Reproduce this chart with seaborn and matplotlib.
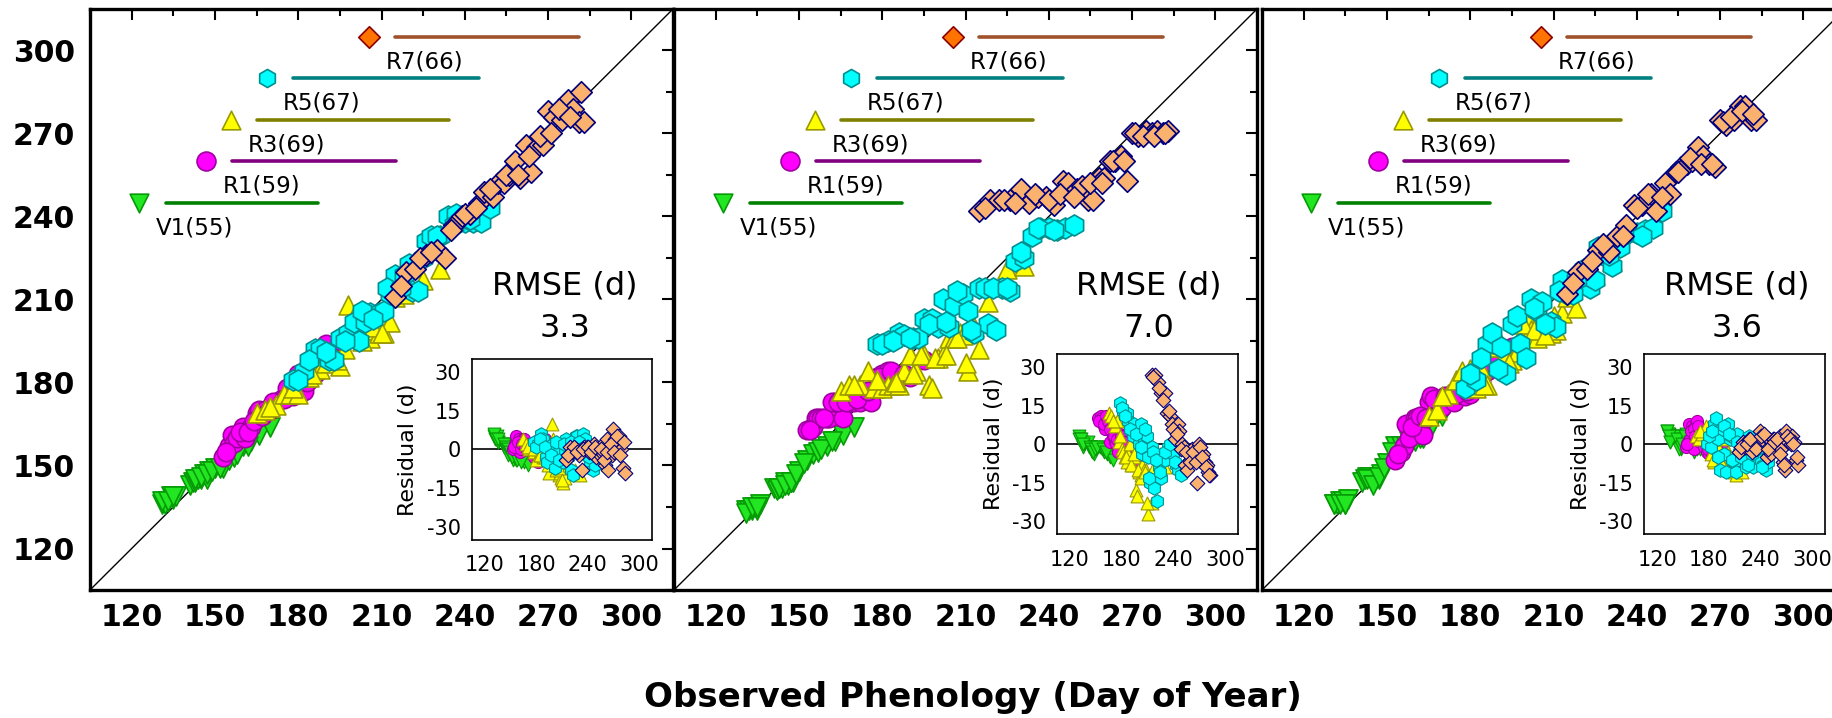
import matplotlib
matplotlib.use("Agg")
import matplotlib.pyplot as plt
from matplotlib.ticker import MultipleLocator
import pandas as pd
import seaborn as sns

# ---------------------------------------------------------------- data
stages = ["V1", "R1", "R3", "R5", "R7"]
counts = [55, 59, 69, 67, 66]
rmse = [3.3, 7.0, 3.6]

# observed day of year for each stage
obs_v1 = [131, 132, 133, 134, 135, 136, 141, 142, 143, 144, 145, 146, 147, 148,
          150, 153, 155, 157, 160, 163, 166, 170,
          131, 133, 135, 143, 145, 147, 149, 152, 158, 162]
obs_r1 = [153, 155, 156, 157, 158, 160, 161, 163, 165, 166, 168, 170, 172, 174,
          176, 178, 180, 182, 184, 186, 190, 195,
          154, 159, 162, 164, 167, 171, 175, 179, 183, 188]
obs_r3 = [165, 168, 172, 175, 177, 180, 182, 184, 186, 188, 190, 192, 195, 197,
          198, 200, 202, 204, 206, 208, 209, 211, 213, 215, 225, 231,
          170, 178, 185, 191, 194, 199, 203, 207, 210, 218]
obs_r5 = [178, 182, 186, 188, 191, 193, 195, 198, 200, 202, 204, 206, 209, 211,
          213, 215, 218, 221, 223, 226, 228, 231, 234, 237, 240, 243, 246, 249,
          180, 184, 190, 197, 203, 207, 212, 217, 220, 225, 230, 236, 242]
obs_r7 = [215, 219, 222, 226, 230, 233, 236, 239, 242, 245, 247, 250, 252, 254,
          256, 258, 260, 262, 264, 266, 268, 270, 272, 275, 277, 279, 281, 283,
          217, 224, 228, 235, 240, 244, 249, 255, 259, 263, 267, 271, 274, 278, 282]

# residuals (simulated - observed, days), model A
res_a_v1 = [5, 4, 4, 5, 3, 3, 2, 2, 1, 1, 0, 1, -2, 0, -1, -4, -3, -4, -3, -4, -5, -6,
            6, 4, 4, 2, 1, 0, -1, -3, -4, -5]
res_a_r1 = [0, 2, 5, 1, 2, 4, -1, 1, 4, 4, 2, 0, 1, 0, 2, -3, 3, -5, -3, -3, 4, 0,
            1, 3, 0, 2, 1, 2, -1, 0, -3, 2]
res_a_r3 = [4, 2, 0, 1, -1, -4, 0, -2, -1, -3, -3, -2, -9, -5, 10, 4, -6, -7, -10,
            -9, -11, -13, -11, -4, -8, -10,
            1, 0, -2, -1, -6, 2, -8, -7, -12, -6]
res_a_r5 = [3, 2, 6, 4, -3, -5, 1, 0, 2, -7, -2, -1, -4, -5, -1, 4, 1, -8, -10, 5,
            5, 2, 6, 4, -2, -5, -8, -6,
            1, 4, 1, -2, 3, -4, 2, -3, 3, 0, 3, 1, -3]
res_a_r7 = [-4, 1, -1, 0, -2, -8, 1, 1, -1, 0, 2, -3, 0, -2, -1, 2, -6, 4, -8, -1,
            -2, 8, 4, 0, 5, 0, -7, -9,
            -2, 1, -1, 0, 1, -1, 1, 0, -4, -1, 2, -1, 5, -2, 3]

# model B
res_b_v1 = [3, 2, 1, 1, -1, 0, 1, -1, -1, -2, -1, -3, -3, -4, -2, -1, -1, -2, -3, -4, -5, -6,
            2, 2, 0, -1, -2, -3, -2, -1, -2, -3]
res_b_r1 = [10, 9, 11, 10, 9, 7, 6, 10, 8, 1, 5, 3, 1, 0, -3, 4, 3, 2, -1, -4, -8, -7,
            9, 8, 11, 9, 6, 3, 2, 3, 1, -5]
res_b_r3 = [12, 11, 7, 9, 1, -2, -3, -5, -7, -4, 0, -8, -5, -18, -20, -11, -12, -8,
            -10, -10, -12, -27, -13, -23, -4, -9,
            9, 3, -5, -8, -4, -10, -13, -11, -23, -9]
res_b_r5 = [16, 13, 12, 9, 5, 3, 8, 5, 0, 8, -4, 2, 3, -5, -15, -1, -17, -22, -9,
            -13, -4, -6, -1, -1, -4, -8, -10, -12,
            14, 11, 6, 4, -1, 6, -13, -3, -6, -11, -3, 0, -7]
res_b_r7 = [27, 27, 24, 20, 20, 12, 11, 8, 2, 8, 5, 0, -1, -8, -10, -4, -6, -2, -4,
            -4, -15, 0, -3, -4, -7, -8, -11, -12,
            26, 22, 17, 13, 6, 4, -2, -3, -7, -3, -7, -1, -5, -9, -12]

# model C
res_c_v1 = [5, 4, 4, 3, 1, 2, 3, 3, 3, 2, 0, -1, -2, -1, 1, 4, 2, 0, -1, -3, -2, -2,
            5, 3, 1, 2, -2, -1, 0, 3, 1, -2]
res_c_r1 = [-1, 0, 1, 8, 2, 7, 6, -2, 8, 9, 2, 1, 3, -1, 0, -3, -4, -3, -3, -2, 1, -2,
            0, 5, 6, 3, 7, 4, 1, -2, -2, -1]
res_c_r3 = [3, 2, 4, 6, 7, 5, -4, 1, -7, 5, 3, -2, -7, -6, 5, 4, -3, -8, -5, -9, -11,
            -12, -8, -4, -6, -7,
            5, 2, -6, 3, -7, 2, -4, -10, -6, -11]
res_c_r5 = [0, -1, 8, 10, 2, -10, 6, -4, -11, 8, 2, 3, -7, -11, 4, -3, -1, 0, -9, 3,
            -2, -9, -5, -3, -6, -8, -10, -7,
            3, 5, -5, 7, 4, -6, 1, -5, -2, -8, -4, -2, -9]
res_c_r7 = [-3, 1, -1, 2, -3, 0, 1, 5, 2, 3, -5, 2, -4, 2, 2, 1, 0, 3, -2, -7, -10, 5,
            1, 0, 3, 1, -6, -8,
            -1, 0, 2, -2, 3, 4, -2, 1, 2, -4, -8, 3, 2, 0, -5]

observed = [obs_v1, obs_r1, obs_r3, obs_r5, obs_r7]
residuals = [
    [res_a_v1, res_a_r1, res_a_r3, res_a_r5, res_a_r7],
    [res_b_v1, res_b_r1, res_b_r3, res_b_r5, res_b_r7],
    [res_c_v1, res_c_r1, res_c_r3, res_c_r5, res_c_r7],
]

frames = []
for m, model_res in enumerate(residuals):
    for stage, obs, res in zip(stages, observed, model_res):
        df = pd.DataFrame({"obs": obs, "res": res})
        df["sim"] = df["obs"] + df["res"]
        df["stage"] = stage
        df["model"] = m
        frames.append(df)
data = pd.concat(frames, ignore_index=True)

# ---------------------------------------------------------------- styles
markers = {"V1": "v", "R1": "o", "R3": "^", "R5": "h", "R7": "D"}
faces = {"V1": "#22e622", "R1": "#ff00ff", "R3": "#ffff00", "R5": "#00ffff", "R7": "#fbb26e"}
edges = {"V1": "#079a07", "R1": "#a000a0", "R3": "#9a9a00", "R5": "#008f8f", "R7": "#00007f"}
key_faces = {"V1": "#22e622", "R1": "#ff00ff", "R3": "#ffff00", "R5": "#00ffff", "R7": "#ff7400"}
key_edges = {"V1": "#079a07", "R1": "#a000a0", "R3": "#9a9a00", "R5": "#008f8f", "R7": "#8b0000"}
bar_colors = {"V1": "#008000", "R1": "#800080", "R3": "#808000", "R5": "#008080", "R7": "#a0522d"}
main_size = {"V1": 190, "R1": 175, "R3": 185, "R5": 230, "R7": 120}
key_size = {"V1": 180, "R1": 185, "R3": 180, "R5": 170, "R7": 120}
inset_size = {"V1": 85, "R1": 75, "R3": 85, "R5": 95, "R7": 56}

# key placement (data units)
key_x = [122.8, 146.8, 155.7, 168.6, 205.5]
key_y = [245, 260, 275, 290, 305]
bar_gap = 9.5

LIM = (105, 315)

sns.set_style("white")
plt.rcParams["font.family"] = ["DejaVu Sans"]
plt.rcParams["axes.unicode_minus"] = False
plt.rcParams["text.color"] = "black"
plt.rcParams["xtick.color"] = "black"
plt.rcParams["ytick.color"] = "black"
plt.rcParams["axes.labelcolor"] = "black"

W, H = 1833, 718
fig = plt.figure(figsize=(W / 100, H / 100), dpi=100)

panel_left = [90, 674, 1262]
inset_bounds = [[0.655, 0.086, 0.309, 0.312],
                [0.657, 0.096, 0.310, 0.310],
                [0.656, 0.096, 0.310, 0.310]]

for p in range(3):
    ax = fig.add_axes([panel_left[p] / W, 128 / H, 583 / W, 581 / H])
    sub = data[data["model"] == p]

    ax.plot(LIM, LIM, color="black", lw=1.0, zorder=1)

    for k, stage in enumerate(stages):
        d = sub[sub["stage"] == stage]
        sns.scatterplot(data=d, x="obs", y="sim", ax=ax, marker=markers[stage],
                        s=main_size[stage], color=faces[stage],
                        edgecolor=edges[stage], linewidth=1.2, zorder=3 + k,
                        legend=False)

    # stage key: marker, bar of length n, and label
    for k, stage in enumerate(stages):
        n = counts[k]
        bx = key_x[k] + bar_gap
        sns.scatterplot(x=[key_x[k]], y=[key_y[k]], ax=ax, marker=markers[stage],
                        s=key_size[stage], color=key_faces[stage],
                        edgecolor=key_edges[stage], linewidth=1.2, zorder=10,
                        legend=False)
        ax.plot([bx, bx + n], [key_y[k], key_y[k]], color=bar_colors[stage],
                lw=2.6, solid_capstyle="round", zorder=9)
        ax.text(bx - 3.5, key_y[k] - 9.0, f"{stage}({n})", fontsize=16.5,
                ha="left", va="center", zorder=11)

    ax.text(276, 214.8, "RMSE (d)", fontsize=23, ha="center", va="center")
    ax.text(276, 199.5, f"{rmse[p]:.1f}", fontsize=23, ha="center", va="center")

    ax.set_xlim(*LIM)
    ax.set_ylim(*LIM)
    ticks = list(range(120, 301, 30))
    ax.set_xticks(ticks, labels=[str(t) for t in ticks], fontweight="bold", fontsize=21.5)
    ax.set_yticks(ticks, labels=[str(t) for t in ticks], fontweight="bold", fontsize=21.5)
    ax.xaxis.set_minor_locator(MultipleLocator(15))
    ax.yaxis.set_minor_locator(MultipleLocator(15))
    ax.tick_params(which="both", direction="in", top=True, right=True,
                   width=1.5, color="black")
    ax.tick_params(which="major", length=8)
    ax.tick_params(which="minor", length=5)
    ax.tick_params(axis="x", which="major", pad=9)
    ax.tick_params(axis="y", which="major", pad=11)
    if p > 0:
        ax.tick_params(axis="y", labelleft=False)
    for sp in ax.spines.values():
        sp.set_linewidth(2.4)
        sp.set_color("black")
    ax.set_xlabel("")
    ax.set_ylabel("")

    # residual inset
    ins = ax.inset_axes(inset_bounds[p])
    ins.set_facecolor("white")
    ins.axhline(0, color="black", lw=1.2, zorder=1)
    for k, stage in enumerate(stages):
        d = sub[sub["stage"] == stage]
        sns.scatterplot(data=d, x="obs", y="res", ax=ins, marker=markers[stage],
                        s=inset_size[stage], color=faces[stage],
                        edgecolor=edges[stage], linewidth=0.8, zorder=3 + k,
                        legend=False)
    ins.set_xlim(*LIM)
    ins.set_ylim(-35, 35)
    xt = [120, 180, 240, 300]
    yt = [-30, -15, 0, 15, 30]
    ins.set_xticks(xt, labels=[str(t) for t in xt], fontsize=15)
    ins.set_yticks(yt, labels=[str(t) for t in yt], fontsize=15)
    ins.xaxis.set_minor_locator(MultipleLocator(30))
    ins.yaxis.set_minor_locator(MultipleLocator(7.5))
    ins.tick_params(which="both", direction="in", width=1.0, color="black")
    ins.tick_params(which="major", length=5)
    ins.tick_params(which="minor", length=3)
    ins.tick_params(axis="x", which="major", pad=11)
    ins.tick_params(axis="y", which="major", pad=8)
    ins.set_xlabel("")
    ins.set_ylabel("Residual (d)", fontsize=16, labelpad=6)
    for sp in ins.spines.values():
        sp.set_linewidth(1.2)
        sp.set_color("black")

fig.text(973 / W, 1 - 698 / H, "Observed Phenology (Day of Year)",
         fontsize=24.5, fontweight="bold", ha="center", va="center")

fig.savefig("out.png", dpi=100)
